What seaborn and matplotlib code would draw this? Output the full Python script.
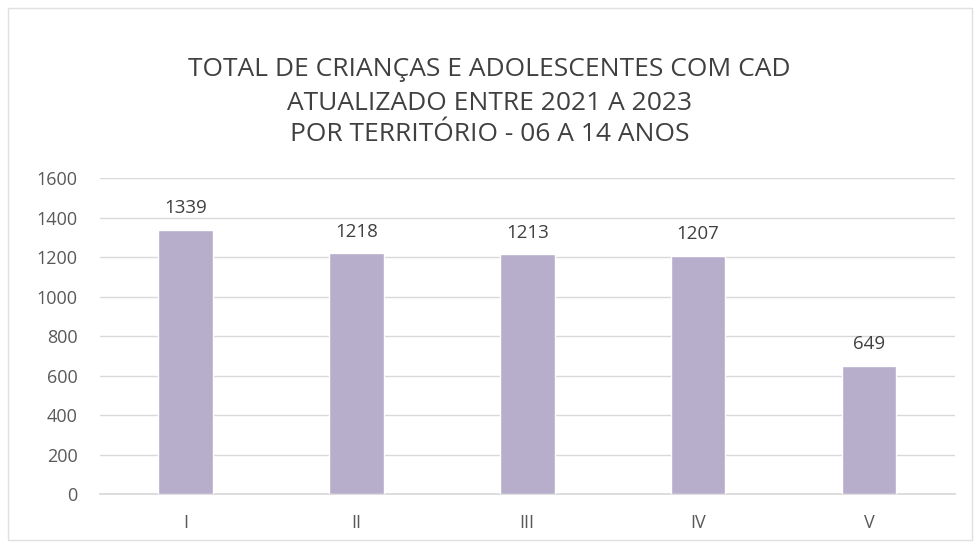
import pandas as pd
import matplotlib.pyplot as plt
import seaborn as sns
from matplotlib.patches import Rectangle

territorios = ["I", "II", "III", "IV", "V"]
totais = [1339, 1218, 1213, 1207, 649]
linhas_titulo = ["TOTAL DE CRIANÇAS E ADOLESCENTES COM CAD",
                 "ATUALIZADO ENTRE 2021 A 2023",
                 "POR TERRITÓRIO - 06 A 14 ANOS"]

df = pd.DataFrame({"territorio": territorios, "total": totais})

sns.set_theme(style="white")
plt.rcParams["font.family"] = ["Open Sans", "DejaVu Sans"]

fig = plt.figure(figsize=(9.79, 5.51), dpi=100)
ax = fig.add_axes([0.102, 0.103, 0.873, 0.574])

sns.barplot(data=df, x="territorio", y="total", color="#b6aecb",
            width=0.32, saturation=1, ax=ax, zorder=3)

for i, v in enumerate(totais):
    ax.text(i, v + 110, str(v), ha="center", va="center",
            fontsize=13.5, color="#404040")

ax.set_ylim(0, 1600)
ax.set_xlim(-0.5, 4.5)
ax.set_yticks(range(0, 1601, 200))
ax.yaxis.grid(True, color="#d9d9d9", linewidth=1)
ax.set_axisbelow(True)
for s in ["top", "right", "left"]:
    ax.spines[s].set_visible(False)
ax.spines["bottom"].set_color("#d9d9d9")
ax.tick_params(axis="both", length=0, labelsize=13, colors="#595959")
ax.tick_params(axis="x", pad=14)
ax.tick_params(axis="y", pad=16)
ax.set_xlabel("")
ax.set_ylabel("")

# titulo em tres linhas
for y, linha in zip([0.873, 0.813, 0.755], linhas_titulo):
    fig.text(0.5, y, linha, ha="center", va="center", fontsize=19, color="#404040")

fig.patches.append(Rectangle((0.008, 0.02), 0.985, 0.965, transform=fig.transFigure,
                             fill=False, edgecolor="#e0e0e0", linewidth=1))

fig.savefig("out.png", dpi=100)
